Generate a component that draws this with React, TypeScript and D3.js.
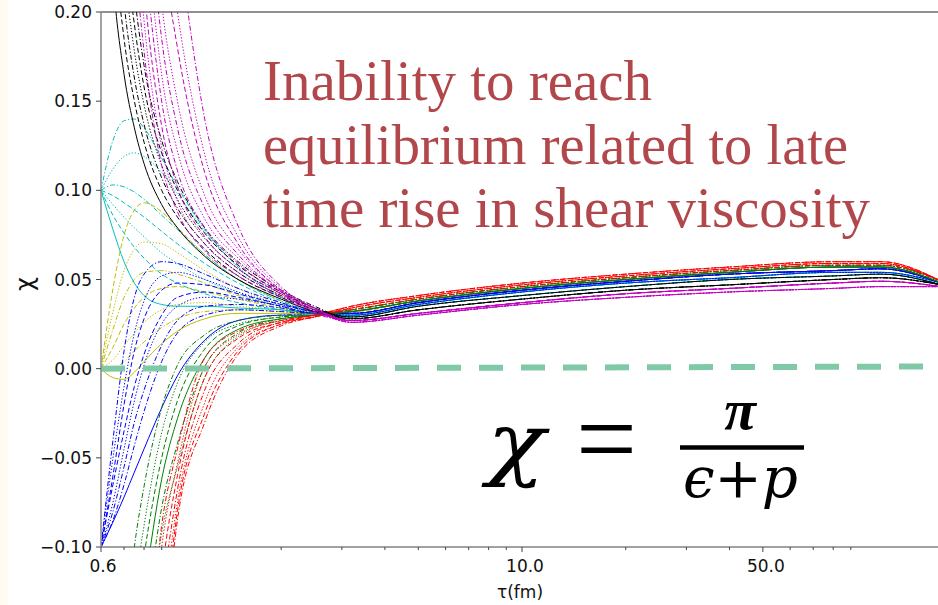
import React from "react";
import * as d3 from "d3";

const W = 938;
const H = 605;

// sample times (fm) shared by every curve
const earlyTau = [0.6, 0.65, 0.7, 0.75, 0.8, 0.9, 1.0, 1.2, 1.5, 2.0, 2.5];
const lateTau = [3.2, 5, 10, 20, 40, 80, 110, 165];

// late-time lanes of the bundle (top = red side, bottom = magenta side)
const lane0 = [0.035, 0.041, 0.048, 0.053, 0.057, 0.06, 0.06, 0.049];
const lane1 = [0.034, 0.04, 0.047, 0.052, 0.056, 0.059, 0.059, 0.049];
const lane2 = [0.033, 0.039, 0.046, 0.051, 0.055, 0.058, 0.058, 0.049];
const lane3 = [0.032, 0.038, 0.045, 0.05, 0.054, 0.057, 0.057, 0.048];
const lane4 = [0.031, 0.037, 0.044, 0.049, 0.053, 0.055, 0.056, 0.048];
const lane5 = [0.03, 0.036, 0.043, 0.048, 0.051, 0.054, 0.054, 0.048];
const lane6 = [0.029, 0.035, 0.041, 0.046, 0.05, 0.052, 0.053, 0.047];
const lane7 = [0.028, 0.033, 0.039, 0.044, 0.047, 0.05, 0.051, 0.047];
const lane8 = [0.027, 0.031, 0.037, 0.042, 0.045, 0.048, 0.049, 0.046];
const lane9 = [0.026, 0.03, 0.036, 0.04, 0.043, 0.045, 0.046, 0.046];
const lanes = [lane0, lane1, lane2, lane3, lane4, lane5, lane6, lane7, lane8, lane9];

// early-time values of each curve, at earlyTau
const yellowCurves = [
  [0.0, 0.045, 0.075, 0.089, 0.093, 0.088, 0.079, 0.064, 0.05, 0.038, 0.032],
  [0.0, 0.032, 0.055, 0.067, 0.071, 0.07, 0.065, 0.055, 0.045, 0.036, 0.032],
  [0.0, 0.022, 0.04, 0.05, 0.054, 0.055, 0.053, 0.048, 0.041, 0.035, 0.031],
  [0.0, 0.012, 0.025, 0.034, 0.04, 0.045, 0.046, 0.043, 0.039, 0.034, 0.031],
  [0.0, 0.005, 0.013, 0.02, 0.026, 0.033, 0.036, 0.037, 0.035, 0.033, 0.031],
  [0.0, -0.005, -0.006, -0.002, 0.004, 0.014, 0.021, 0.028, 0.031, 0.031, 0.031],
  [0.0, 0.0, 0.004, 0.01, 0.015, 0.023, 0.028, 0.032, 0.033, 0.032, 0.031],
];
const yellowStyles = ["dashed", "dotted", "dashdot", "dashed", "dotted", "solid", "dashdot"];
const yellowLanes = [3, 4, 3, 4, 3, 4, 5];

const cyanCurves = [
  [0.1, 0.128, 0.139, 0.14, 0.135, 0.118, 0.102, 0.078, 0.057, 0.04, 0.032],
  [0.1, 0.112, 0.119, 0.121, 0.119, 0.11, 0.098, 0.077, 0.057, 0.04, 0.032],
  [0.1, 0.103, 0.102, 0.099, 0.095, 0.086, 0.078, 0.064, 0.05, 0.038, 0.032],
  [0.1, 0.097, 0.093, 0.089, 0.085, 0.077, 0.07, 0.059, 0.048, 0.037, 0.031],
  [0.1, 0.092, 0.085, 0.079, 0.074, 0.065, 0.059, 0.05, 0.042, 0.035, 0.031],
  [0.1, 0.086, 0.076, 0.068, 0.062, 0.053, 0.048, 0.042, 0.037, 0.033, 0.031],
  [0.1, 0.078, 0.06, 0.048, 0.041, 0.036, 0.035, 0.035, 0.034, 0.033, 0.031],
];
const cyanStyles = ["dashdot", "dotted", "dashdot", "dashed", "dotted", "dashed", "solid"];
const cyanLanes = [5, 6, 5, 6, 5, 6, 5];

const blueCurves = [
  [-0.1, -0.04, 0.01, 0.04, 0.053, 0.06, 0.059, 0.053, 0.045, 0.037, 0.032],
  [-0.1, -0.06, -0.02, 0.01, 0.028, 0.044, 0.048, 0.047, 0.042, 0.036, 0.032],
  [-0.1, -0.075, -0.045, -0.018, 0.002, 0.025, 0.035, 0.04, 0.039, 0.035, 0.031],
  [-0.1, -0.085, -0.065, -0.043, -0.024, 0.004, 0.02, 0.03, 0.033, 0.032, 0.031],
  [-0.1, -0.086, -0.072, -0.058, -0.045, -0.022, -0.004, 0.016, 0.027, 0.03, 0.03],
  [-0.1, -0.065, -0.035, -0.01, 0.008, 0.03, 0.04, 0.043, 0.04, 0.035, 0.031],
  [-0.1, -0.05, -0.01, 0.02, 0.038, 0.052, 0.054, 0.05, 0.043, 0.036, 0.032],
  [-0.1, -0.08, -0.055, -0.03, -0.012, 0.013, 0.027, 0.035, 0.036, 0.034, 0.031],
];
const blueStyles = ["dashdot", "dashed", "dotted", "dashdot", "solid", "dashed", "dotted", "dashdot"];
const blueLanes = [4, 4, 5, 4, 3, 4, 5, 4];

const greenCurves = [
  [-0.3, -0.22, -0.155, -0.1, -0.066, -0.022, 0.002, 0.019, 0.027, 0.03, 0.031],
  [-0.33, -0.25, -0.18, -0.125, -0.088, -0.036, -0.008, 0.015, 0.025, 0.029, 0.031],
  [-0.35, -0.27, -0.2, -0.145, -0.105, -0.05, -0.018, 0.011, 0.024, 0.029, 0.03],
  [-0.37, -0.29, -0.22, -0.165, -0.125, -0.062, -0.028, 0.006, 0.022, 0.028, 0.03],
  [-0.4, -0.32, -0.245, -0.19, -0.148, -0.078, -0.042, 0.001, 0.02, 0.028, 0.03],
  [-0.42, -0.34, -0.27, -0.215, -0.17, -0.092, -0.055, -0.005, 0.018, 0.027, 0.03],
];
const greenStyles = ["dashdot", "dotted", "dashed", "solid", "dashdot", "dotted"];
const greenLanes = [2, 3, 2, 3, 2, 3];

const redCurves = [
  [-0.45, -0.37, -0.3, -0.24, -0.19, -0.088, -0.045, 0.006, 0.021, 0.027, 0.03],
  [-0.47, -0.39, -0.32, -0.26, -0.205, -0.1, -0.053, 0.001, 0.019, 0.027, 0.03],
  [-0.49, -0.41, -0.335, -0.275, -0.22, -0.115, -0.06, -0.005, 0.017, 0.026, 0.03],
  [-0.5, -0.42, -0.35, -0.29, -0.235, -0.13, -0.068, -0.012, 0.014, 0.026, 0.029],
  [-0.52, -0.44, -0.365, -0.3, -0.25, -0.145, -0.075, -0.019, 0.012, 0.025, 0.029],
  [-0.53, -0.45, -0.38, -0.31, -0.26, -0.158, -0.08, -0.025, 0.01, 0.025, 0.029],
  [-0.55, -0.47, -0.39, -0.32, -0.27, -0.17, -0.085, -0.03, 0.008, 0.024, 0.029],
];
const redStyles = ["dashdot", "dotted", "dashed", "dashdot", "dotted", "dashed", "dashdot"];
const redLanes = [0, 1, 0, 1, 0, 1, 2];

const blackCurves = [
  [0.35, 0.22, 0.165, 0.135, 0.115, 0.092, 0.079, 0.063, 0.05, 0.039, 0.032],
  [0.4, 0.25, 0.185, 0.15, 0.127, 0.1, 0.085, 0.067, 0.052, 0.04, 0.033],
  [0.45, 0.28, 0.205, 0.163, 0.137, 0.107, 0.09, 0.07, 0.054, 0.041, 0.033],
  [0.5, 0.31, 0.225, 0.178, 0.148, 0.114, 0.095, 0.073, 0.056, 0.042, 0.034],
  [0.55, 0.34, 0.245, 0.193, 0.158, 0.121, 0.1, 0.076, 0.058, 0.043, 0.034],
  [0.6, 0.37, 0.27, 0.21, 0.17, 0.128, 0.105, 0.079, 0.06, 0.044, 0.035],
];
const blackStyles = ["solid", "dashed", "dashdot", "dotted", "dashed", "dashdot"];
const blackLanes = [7, 6, 7, 7, 6, 7];

const magentaCurves = [
  [0.8, 0.5, 0.33, 0.235, 0.178, 0.114, 0.088, 0.066, 0.052, 0.04, 0.031],
  [0.85, 0.56, 0.37, 0.26, 0.195, 0.124, 0.094, 0.07, 0.054, 0.041, 0.032],
  [0.88, 0.6, 0.41, 0.29, 0.215, 0.136, 0.102, 0.074, 0.056, 0.042, 0.032],
  [0.9, 0.64, 0.45, 0.32, 0.24, 0.15, 0.111, 0.079, 0.059, 0.042, 0.033],
  [0.92, 0.68, 0.49, 0.35, 0.265, 0.165, 0.122, 0.084, 0.062, 0.043, 0.033],
  [0.95, 0.72, 0.53, 0.38, 0.29, 0.185, 0.135, 0.09, 0.064, 0.043, 0.033],
  [0.97, 0.76, 0.56, 0.41, 0.32, 0.205, 0.15, 0.097, 0.067, 0.044, 0.034],
  [1.0, 0.8, 0.6, 0.45, 0.36, 0.24, 0.18, 0.11, 0.07, 0.044, 0.034],
  [1.05, 0.85, 0.66, 0.5, 0.4, 0.27, 0.2, 0.12, 0.074, 0.045, 0.034],
  [1.1, 0.9, 0.72, 0.56, 0.45, 0.32, 0.245, 0.14, 0.08, 0.046, 0.034],
];
const magentaStyles = [
  "dashdot", "dotted", "dashed", "dashdot", "dotted", "dashdot", "dotted", "dashed", "dotted", "dashdot",
];
const magentaLanes = [8, 9, 8, 9, 9, 8, 9, 8, 9, 8];

// axis ticks
const yTicks = [-0.1, -0.05, 0.0, 0.05, 0.1, 0.15, 0.2];
const xMajorTicks = [0.6, 10, 50];
const xMajorLabels = ["0.6", "10.0", "50.0"];
const xMinorTicks = [0.7, 0.8, 0.9, 2, 3, 4, 5, 6, 7, 8, 9, 20, 30, 40, 60, 70, 80, 90];

// zero reference line
const zeroLineTau = [0.6, 160];
const zeroLineVal = [0.0, 0.0012];

const annotation = [
  "Inability to reach",
  "equilibrium related to late",
  "time rise in shear viscosity",
];
const annotationWidths = [389, 585, 607];

const dashMap: Record<string, string | undefined> = {
  solid: undefined,
  dashed: "5 2.6",
  dashdot: "5 2 1.2 2",
  dotted: "1.3 1.8",
};

export default function App() {
  const left = 101;
  const right = 946;
  const top = 12;
  const bottom = 547;
  const x = d3.scaleLog().domain([0.6, 170]).range([left, right]);
  const y = d3.scaleLinear().domain([-0.1, 0.2]).range([bottom, top]);
  const line = d3
    .line<[number, number]>()
    .x((d) => x(d[0]))
    .y((d) => y(d[1]))
    .curve(d3.curveMonotoneX);

  const groups = [
    { color: "#bfbf00", curves: yellowCurves, styles: yellowStyles, lanes: yellowLanes },
    { color: "#00bfbf", curves: cyanCurves, styles: cyanStyles, lanes: cyanLanes },
    { color: "#0000ff", curves: blueCurves, styles: blueStyles, lanes: blueLanes },
    { color: "#008000", curves: greenCurves, styles: greenStyles, lanes: greenLanes },
    { color: "#ff0000", curves: redCurves, styles: redStyles, lanes: redLanes },
    { color: "#000000", curves: blackCurves, styles: blackStyles, lanes: blackLanes },
    { color: "#bf00bf", curves: magentaCurves, styles: magentaStyles, lanes: magentaLanes },
  ];

  const fmt = d3.format(".2f");
  const tickFont = "'DejaVu Sans', sans-serif";

  return (
    <svg
      width={W}
      height={H}
      style={{ position: "absolute", left: 0, top: 0, background: "#ffffff" }}
    >
      <rect x={0} y={0} width={W} height={H} fill="#ffffff" />
      <rect x={0} y={0} width={8} height={H} fill="#fffbf0" />
      <defs>
        <clipPath id="plotClip">
          <rect x={left} y={top} width={right - left} height={bottom - top} />
        </clipPath>
      </defs>
      <g clipPath="url(#plotClip)">
        {groups.map((g, gi) =>
          g.curves.map((c, ci) => {
            const pts: [number, number][] = [
              ...earlyTau.map((t, i) => [t, c[i]] as [number, number]),
              ...lateTau.map((t, i) => [t, lanes[g.lanes[ci]][i]] as [number, number]),
            ];
            return (
              <path
                key={`${gi}-${ci}`}
                d={line(pts) || ""}
                fill="none"
                stroke={g.color}
                strokeWidth={1}
                strokeDasharray={dashMap[g.styles[ci]]}
              />
            );
          })
        )}
        <line
          x1={x(zeroLineTau[0])}
          x2={x(zeroLineTau[1])}
          y1={y(zeroLineVal[0])}
          y2={y(zeroLineVal[1])}
          stroke="#80c9a6"
          strokeWidth={6}
          strokeDasharray="24 18"
        />
      </g>

      {/* spines */}
      <line x1={left} x2={right} y1={top} y2={top} stroke="#222" strokeWidth={1.2} />
      <line x1={left} x2={right} y1={bottom} y2={bottom} stroke="#444" strokeWidth={1.2} />
      <line x1={left} x2={left} y1={top} y2={bottom} stroke="#8c8c8c" strokeWidth={1.6} />

      {/* y ticks */}
      {yTicks.map((t) => (
        <g key={`y${t}`}>
          <line x1={left - 5} x2={left} y1={y(t)} y2={y(t)} stroke="#444" strokeWidth={1} />
          <text
            x={left - 9}
            y={y(t) + 6}
            textAnchor="end"
            fontFamily={tickFont}
            fontSize={17}
            fill="#111"
          >
            {fmt(t)}
          </text>
        </g>
      ))}

      {/* x ticks */}
      {xMinorTicks.map((t) => (
        <line key={`xm${t}`} x1={x(t)} x2={x(t)} y1={bottom} y2={bottom + 3} stroke="#444" strokeWidth={1} />
      ))}
      {xMajorTicks.map((t, i) => (
        <g key={`xM${t}`}>
          <line x1={x(t)} x2={x(t)} y1={bottom} y2={bottom + 5} stroke="#444" strokeWidth={1} />
          <text
            x={x(t) + (i === 0 ? 2 : 3)}
            y={572}
            textAnchor="middle"
            fontFamily={tickFont}
            fontSize={17}
            fill="#111"
          >
            {xMajorLabels[i]}
          </text>
        </g>
      ))}

      {/* axis labels */}
      <text x={520} y={598} textAnchor="middle" fontFamily={tickFont} fontSize={17} fill="#111">
        τ(fm)
      </text>
      <text
        transform="translate(33,284) rotate(-90)"
        textAnchor="middle"
        fontFamily={tickFont}
        fontSize={24}
        fill="#111"
      >
        χ
      </text>

      {/* annotation */}
      {annotation.map((s, i) => (
        <text
          key={s}
          x={263}
          y={100 + i * 63.5}
          fontFamily="'Liberation Serif', serif"
          fontSize={56}
          fill="#b2474b"
          textLength={annotationWidths[i]}
          lengthAdjust="spacingAndGlyphs"
        >
          {s}
        </text>
      ))}

      {/* formula */}
      <text
        x={487}
        y={470}
        fontFamily="'DejaVu Serif', serif"
        fontStyle="italic"
        fontSize={80}
        fill="#000"
        textLength={58}
        lengthAdjust="spacingAndGlyphs"
      >
        χ
      </text>
      <text
        x={576}
        y={476}
        fontFamily="'Liberation Serif', serif"
        fontSize={112}
        fill="#000"
        textLength={61}
        lengthAdjust="spacingAndGlyphs"
      >
        =
      </text>
      <line x1={680} x2={804} y1={447.5} y2={447.5} stroke="#000" strokeWidth={4.5} />
      <text
        x={740}
        y={429}
        textAnchor="middle"
        fontFamily="'Liberation Serif', serif"
        fontStyle="italic"
        fontWeight="bold"
        fontSize={58}
        fill="#000"
      >
        π
      </text>
      <text
        x={683}
        y={497}
        fontFamily="'DejaVu Serif', serif"
        fontStyle="italic"
        fontSize={56}
        fill="#000"
        textLength={115}
        lengthAdjust="spacingAndGlyphs"
      >
        ϵ+p
      </text>
    </svg>
  );
}
